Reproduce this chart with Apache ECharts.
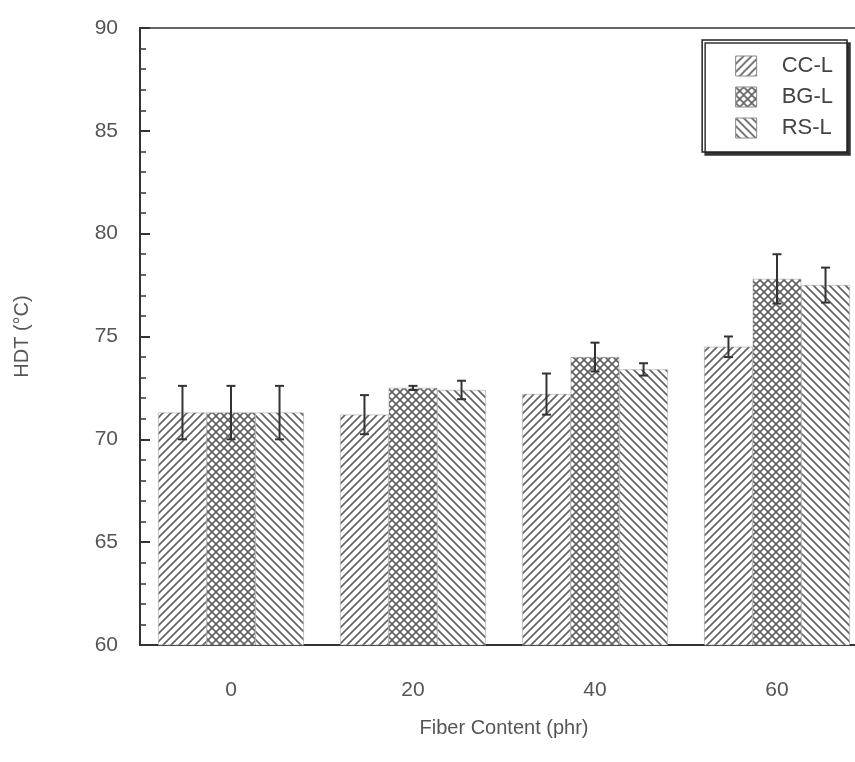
<!DOCTYPE html>
<html>
<head>
<meta charset="utf-8">
<script src="https://cdn.jsdelivr.net/npm/echarts@6/dist/echarts.min.js"></script>
<style>
html,body{margin:0;padding:0;background:#fff;}
#c{width:855px;height:762px;}
</style>
</head>
<body>
<div id="c"></div>
<script>
var categories = ['0', '20', '40', '60'];
var seriesNames = ['CC-L', 'BG-L', 'RS-L'];
var cclValues = [71.3, 71.2, 72.2, 74.5];
var cclErrors = [1.3, 0.95, 1.0, 0.5];
var bglValues = [71.3, 72.5, 74.0, 77.8];
var bglErrors = [1.3, 0.1, 0.7, 1.2];
var rslValues = [71.3, 72.4, 73.4, 77.5];
var rslErrors = [1.3, 0.45, 0.3, 0.85];
var yTicks = [60, 65, 70, 75, 80, 85, 90];

function makePattern(kind) {
  var s = 8;
  var cv = document.createElement('canvas');
  cv.width = s; cv.height = s;
  var ctx = cv.getContext('2d');
  ctx.fillStyle = '#ffffff';
  ctx.fillRect(0, 0, s, s);
  ctx.strokeStyle = '#606060';
  ctx.lineWidth = 1.6;
  function line(x1, y1, x2, y2) { ctx.beginPath(); ctx.moveTo(x1, y1); ctx.lineTo(x2, y2); ctx.stroke(); }
  if (kind === 'fwd' || kind === 'cross') {
    line(0, s, s, 0); line(-2, 2, 2, -2); line(s - 2, s + 2, s + 2, s - 2);
  }
  if (kind === 'back' || kind === 'cross') {
    line(0, 0, s, s); line(-2, s - 2, 2, s + 2); line(s - 2, -2, s + 2, 2);
  }
  return { image: cv, repeat: 'repeat' };
}
var patterns = [makePattern('fwd'), makePattern('cross'), makePattern('back')];
var values = [cclValues, bglValues, rslValues];
var errors = [cclErrors, bglErrors, rslErrors];

var font = "'Liberation Sans', Arial, sans-serif";
var series = [];
for (var i = 0; i < 3; i++) {
  series.push({
    name: seriesNames[i],
    type: 'bar',
    data: values[i],
    barGap: '0%',
    barCategoryGap: '20%',
    itemStyle: { color: patterns[i], borderColor: '#999', borderWidth: 0.5 },
    z: 2
  });
}
for (var j = 0; j < 3; j++) {
  (function (si) {
    var d = values[si].map(function (v, k) { return [k, v, errors[si][k]]; });
    series.push({
      type: 'custom',
      name: seriesNames[si] + ' err',
      z: 5,
      data: d,
      encode: { x: 0, y: 1 },
      renderItem: function (params, api) {
        var idx = api.value(0), v = api.value(1), e = api.value(2);
        var band = api.size([1, 0])[0];
        var bw = band * 0.8 / 3;
        var off = (si - 1) * bw;
        var top = api.coord([idx, v + e]);
        var bot = api.coord([idx, v - e]);
        var x = top[0] + off;
        var cap = 4.5;
        var st = { stroke: '#333', lineWidth: 2 };
        return {
          type: 'group',
          children: [
            { type: 'line', shape: { x1: x, y1: top[1], x2: x, y2: bot[1] }, style: st },
            { type: 'line', shape: { x1: x - cap, y1: top[1], x2: x + cap, y2: top[1] }, style: st },
            { type: 'line', shape: { x1: x - cap, y1: bot[1], x2: x + cap, y2: bot[1] }, style: st }
          ]
        };
      }
    });
  })(j);
}

var chart = echarts.init(document.getElementById('c'));
chart.setOption({
  animation: false,
  backgroundColor: '#fff',
  grid: { left: 140, top: 28, width: 728, height: 617, outerBoundsMode: 'none', containLabel: false, show: true, borderColor: '#333', borderWidth: 1.5, backgroundColor: 'transparent' },
  legend: {
    data: seriesNames,
    orient: 'vertical',
    right: 8,
    top: 40,
    padding: [15, 14, 13, 33],
    itemGap: 9,
    itemWidth: 21,
    itemHeight: 20,
    icon: 'rect',
    backgroundColor: '#fff',
    borderColor: '#222',
    borderWidth: 1.5,
    shadowColor: '#333',
    shadowOffsetX: 3,
    shadowOffsetY: 3,
    shadowBlur: 0,
    itemStyle: { borderColor: '#888', borderWidth: 1 },
    textStyle: { fontFamily: font, fontSize: 22, lineHeight: 20, color: '#444', padding: [0, 0, 0, 20] }
  },
  xAxis: {
    type: 'category',
    data: categories,
    name: 'Fiber Content (phr)',
    nameLocation: 'middle',
    nameGap: 73,
    nameTextStyle: { fontFamily: font, fontSize: 20, color: '#555' },
    axisLine: { lineStyle: { color: '#333', width: 2 } },
    axisTick: { show: false },
    axisLabel: { fontFamily: font, fontSize: 21, color: '#555', margin: 35 },
    splitLine: { show: false }
  },
  yAxis: {
    type: 'value',
    min: yTicks[0],
    max: yTicks[yTicks.length - 1],
    interval: 5,
    name: 'HDT (°C)',
    nameLocation: 'middle',
    nameGap: 108,
    nameTextStyle: { fontFamily: font, fontSize: 20, color: '#555' },
    axisLine: { show: true, lineStyle: { color: '#333', width: 2 } },
    axisTick: { show: true, inside: true, length: 10, lineStyle: { color: '#333', width: 2 } },
    minorTick: { show: true, splitNumber: 5, length: 6, lineStyle: { color: '#333', width: 1.5 } },
    axisLabel: { fontFamily: font, fontSize: 21, color: '#555', margin: 22 },
    splitLine: { show: false }
  },
  series: series
});
</script>
</body>
</html>
